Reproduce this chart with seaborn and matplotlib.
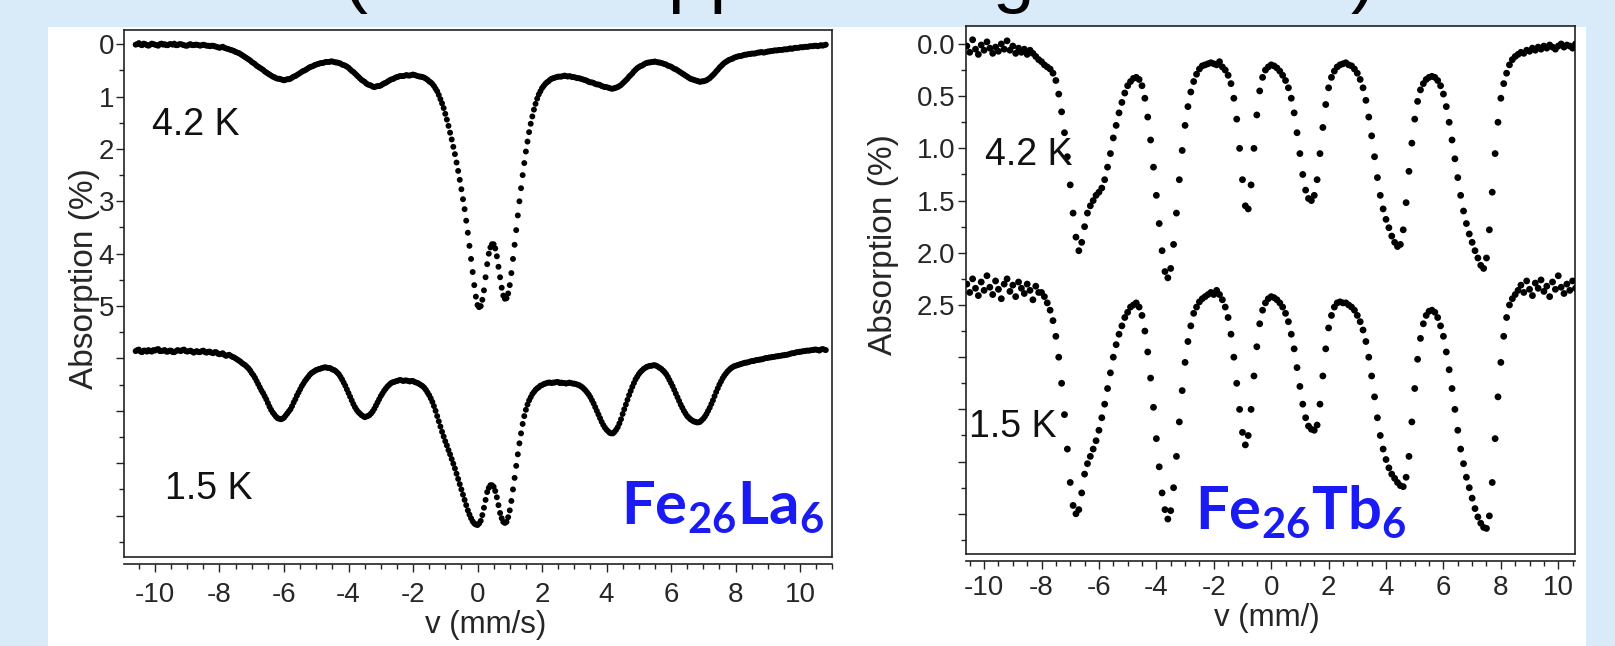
import numpy as np
import pandas as pd
import matplotlib
matplotlib.use("Agg")
import matplotlib.pyplot as plt
from matplotlib.patches import Rectangle
from matplotlib.ticker import FixedLocator, MultipleLocator, FuncFormatter
import seaborn as sns

# ---------------------------------------------------------------------------
# Mossbauer spectra: absorption (%) versus source velocity (mm/s)
# ---------------------------------------------------------------------------
# Fe26La6 channels: -10.6 ... 10.8 mm/s, 0.05 mm/s apart (429 channels)
la_velocity = np.arange(-212, 217) / 20.0
# Fe26Tb6 channels: -10.6 ... 10.8 mm/s, 0.1 mm/s apart (215 channels)
tb_velocity = np.arange(-106, 109) / 10.0

# Fe26La6, 4.2 K
la_4K2 = [
    0.01, 0.00, -0.02, 0.01, 0.02, -0.01, 0.00, 0.02, 0.03, 0.01, -0.01, 0.00, 0.01, 0.02, 0.03, 0.00, -0.01, 0.01, 0.00, 0.02,
    0.02, 0.00, 0.00, 0.01, -0.01, 0.02, 0.02, 0.00, 0.00, 0.01, 0.02, 0.03, 0.03, 0.01, 0.00, 0.02, 0.02, 0.01, 0.01, 0.02,
    0.03, 0.02, 0.01, 0.02, 0.03, 0.03, 0.04, 0.03, 0.03, 0.04, 0.05, 0.06, 0.07, 0.06, 0.05, 0.07, 0.08, 0.09, 0.10, 0.11,
    0.12, 0.13, 0.15, 0.16, 0.17, 0.19, 0.21, 0.23, 0.25, 0.27, 0.29, 0.31, 0.34, 0.36, 0.38, 0.41, 0.43, 0.45, 0.47, 0.49,
    0.52, 0.54, 0.56, 0.58, 0.60, 0.62, 0.63, 0.65, 0.66, 0.66, 0.67, 0.68, 0.69, 0.68, 0.67, 0.67, 0.66, 0.64, 0.62, 0.61,
    0.59, 0.57, 0.55, 0.53, 0.51, 0.50, 0.48, 0.46, 0.44, 0.43, 0.42, 0.40, 0.39, 0.38, 0.37, 0.36, 0.36, 0.35, 0.34, 0.34,
    0.34, 0.33, 0.33, 0.34, 0.35, 0.35, 0.36, 0.37, 0.39, 0.40, 0.41, 0.43, 0.45, 0.48, 0.51, 0.53, 0.56, 0.59, 0.62, 0.65,
    0.68, 0.70, 0.72, 0.75, 0.77, 0.78, 0.79, 0.81, 0.82, 0.81, 0.80, 0.80, 0.79, 0.77, 0.75, 0.74, 0.72, 0.70, 0.68, 0.67,
    0.66, 0.64, 0.63, 0.62, 0.61, 0.61, 0.61, 0.60, 0.59, 0.60, 0.60, 0.59, 0.58, 0.59, 0.60, 0.61, 0.62, 0.62, 0.63, 0.64,
    0.66, 0.68, 0.71, 0.73, 0.76, 0.80, 0.85, 0.90, 0.97, 1.05, 1.13, 1.22, 1.33, 1.44, 1.56, 1.69, 1.82, 1.96, 2.10, 2.26,
    2.42, 2.59, 2.77, 2.96, 3.15, 3.37, 3.60, 3.85, 4.10, 4.35, 4.60, 4.82, 4.98, 5.02, 5.00, 4.88, 4.70, 4.45, 4.20, 4.00,
    3.88, 3.82, 3.82, 3.90, 4.05, 4.25, 4.45, 4.65, 4.80, 4.86, 4.85, 4.76, 4.60, 4.37, 4.10, 3.83, 3.55, 3.27, 3.00, 2.75,
    2.50, 2.27, 2.05, 1.86, 1.68, 1.52, 1.38, 1.25, 1.14, 1.04, 0.96, 0.90, 0.84, 0.80, 0.76, 0.73, 0.71, 0.68, 0.66, 0.65,
    0.64, 0.63, 0.62, 0.62, 0.62, 0.61, 0.60, 0.61, 0.62, 0.61, 0.62, 0.63, 0.63, 0.64, 0.65, 0.65, 0.66, 0.67, 0.68, 0.69,
    0.70, 0.72, 0.73, 0.73, 0.74, 0.76, 0.77, 0.77, 0.78, 0.80, 0.81, 0.82, 0.82, 0.83, 0.84, 0.85, 0.85, 0.84, 0.83, 0.82,
    0.80, 0.78, 0.75, 0.72, 0.69, 0.66, 0.62, 0.59, 0.56, 0.52, 0.49, 0.46, 0.44, 0.42, 0.41, 0.39, 0.37, 0.36, 0.35, 0.35,
    0.34, 0.34, 0.33, 0.34, 0.35, 0.35, 0.36, 0.37, 0.38, 0.39, 0.41, 0.42, 0.43, 0.45, 0.47, 0.48, 0.50, 0.52, 0.54, 0.56,
    0.58, 0.60, 0.62, 0.64, 0.66, 0.67, 0.68, 0.69, 0.70, 0.71, 0.72, 0.71, 0.71, 0.70, 0.69, 0.67, 0.65, 0.62, 0.59, 0.56,
    0.52, 0.49, 0.45, 0.42, 0.39, 0.36, 0.34, 0.32, 0.30, 0.29, 0.28, 0.26, 0.25, 0.24, 0.23, 0.23, 0.22, 0.21, 0.20, 0.20,
    0.19, 0.19, 0.18, 0.18, 0.18, 0.17, 0.16, 0.16, 0.15, 0.16, 0.16, 0.15, 0.14, 0.14, 0.13, 0.13, 0.12, 0.12, 0.12, 0.11,
    0.11, 0.11, 0.10, 0.10, 0.10, 0.09, 0.08, 0.09, 0.08, 0.07, 0.07, 0.07, 0.06, 0.06, 0.06, 0.05, 0.05, 0.05, 0.04, 0.04,
    0.04, 0.03, 0.03, 0.04, 0.03, 0.02, 0.03, 0.02, 0.01,
]

# Fe26La6, 1.5 K
la_1K5 = [
    5.86, 5.84, 5.83, 5.87, 5.88, 5.85, 5.85, 5.87, 5.84, 5.86, 5.87, 5.84, 5.85, 5.83, 5.82, 5.86, 5.86, 5.85, 5.84, 5.87,
    5.87, 5.85, 5.85, 5.88, 5.88, 5.86, 5.84, 5.85, 5.86, 5.84, 5.83, 5.86, 5.87, 5.86, 5.85, 5.87, 5.89, 5.87, 5.86, 5.88,
    5.88, 5.86, 5.85, 5.88, 5.89, 5.87, 5.87, 5.89, 5.90, 5.88, 5.88, 5.91, 5.92, 5.91, 5.90, 5.93, 5.95, 5.94, 5.93, 5.95,
    5.97, 5.98, 6.00, 6.02, 6.04, 6.06, 6.09, 6.11, 6.13, 6.16, 6.19, 6.23, 6.28, 6.32, 6.37, 6.43, 6.49, 6.55, 6.61, 6.66,
    6.72, 6.78, 6.85, 6.92, 6.98, 7.03, 7.07, 7.11, 7.14, 7.15, 7.16, 7.15, 7.13, 7.09, 7.05, 7.01, 6.97, 6.91, 6.84, 6.78,
    6.71, 6.65, 6.59, 6.53, 6.48, 6.43, 6.39, 6.35, 6.31, 6.28, 6.26, 6.24, 6.22, 6.21, 6.20, 6.19, 6.18, 6.17, 6.17, 6.18,
    6.18, 6.19, 6.21, 6.22, 6.24, 6.27, 6.30, 6.35, 6.40, 6.46, 6.52, 6.59, 6.66, 6.73, 6.80, 6.87, 6.93, 6.98, 7.02, 7.05,
    7.08, 7.10, 7.12, 7.11, 7.10, 7.08, 7.05, 7.01, 6.96, 6.90, 6.84, 6.78, 6.72, 6.67, 6.62, 6.58, 6.54, 6.51, 6.48, 6.46,
    6.45, 6.44, 6.43, 6.42, 6.41, 6.42, 6.43, 6.42, 6.42, 6.43, 6.44, 6.43, 6.43, 6.45, 6.46, 6.47, 6.49, 6.51, 6.53, 6.56,
    6.60, 6.65, 6.70, 6.76, 6.83, 6.91, 7.00, 7.10, 7.20, 7.30, 7.40, 7.49, 7.58, 7.66, 7.75, 7.83, 7.92, 8.01, 8.10, 8.20,
    8.30, 8.40, 8.50, 8.60, 8.70, 8.80, 8.90, 8.98, 9.05, 9.11, 9.15, 9.17, 9.18, 9.15, 9.10, 8.99, 8.85, 8.70, 8.55, 8.47,
    8.42, 8.42, 8.45, 8.53, 8.65, 8.80, 8.95, 9.05, 9.12, 9.14, 9.12, 9.03, 8.90, 8.72, 8.50, 8.28, 8.05, 7.83, 7.62, 7.43,
    7.25, 7.10, 6.98, 6.88, 6.80, 6.74, 6.68, 6.64, 6.60, 6.57, 6.55, 6.52, 6.51, 6.49, 6.48, 6.47, 6.46, 6.46, 6.47, 6.46,
    6.46, 6.45, 6.45, 6.47, 6.46, 6.47, 6.47, 6.48, 6.47, 6.46, 6.47, 6.48, 6.48, 6.49, 6.50, 6.51, 6.53, 6.55, 6.58, 6.61,
    6.65, 6.69, 6.74, 6.80, 6.86, 6.93, 7.00, 7.07, 7.14, 7.21, 7.27, 7.32, 7.36, 7.39, 7.42, 7.43, 7.43, 7.40, 7.36, 7.31,
    7.24, 7.16, 7.06, 6.97, 6.88, 6.79, 6.70, 6.62, 6.54, 6.47, 6.40, 6.35, 6.30, 6.26, 6.23, 6.20, 6.18, 6.16, 6.15, 6.14,
    6.14, 6.13, 6.13, 6.14, 6.16, 6.18, 6.20, 6.23, 6.26, 6.30, 6.35, 6.41, 6.47, 6.53, 6.60, 6.67, 6.74, 6.81, 6.88, 6.94,
    7.00, 7.05, 7.10, 7.13, 7.16, 7.18, 7.20, 7.21, 7.22, 7.22, 7.21, 7.18, 7.15, 7.11, 7.06, 7.00, 6.94, 6.87, 6.80, 6.72,
    6.64, 6.57, 6.50, 6.44, 6.38, 6.33, 6.29, 6.25, 6.22, 6.19, 6.17, 6.15, 6.14, 6.13, 6.12, 6.11, 6.10, 6.09, 6.08, 6.08,
    6.07, 6.06, 6.05, 6.05, 6.04, 6.03, 6.03, 6.02, 6.02, 6.01, 6.00, 5.99, 5.99, 5.98, 5.98, 5.97, 5.97, 5.96, 5.96, 5.95,
    5.95, 5.94, 5.94, 5.93, 5.93, 5.92, 5.91, 5.90, 5.90, 5.89, 5.88, 5.88, 5.87, 5.87, 5.86, 5.86, 5.85, 5.85, 5.85, 5.84,
    5.84, 5.83, 5.83, 5.84, 5.85, 5.83, 5.82, 5.83, 5.84,
]

# Fe26Tb6, 4.2 K
tb_4K2 = [
    0.02, 0.08, -0.04, 0.05, 0.10, 0.01, 0.06, -0.02, 0.04, 0.09,
    0.03, 0.07, 0.00, 0.05, -0.03, 0.06, 0.02, 0.09, 0.04, 0.08,
    0.05, 0.10, 0.06, 0.09, 0.12, 0.15, 0.17, 0.20, 0.22, 0.24,
    0.28, 0.35, 0.48, 0.65, 0.85, 1.08, 1.35, 1.62, 1.85, 1.98,
    1.90, 1.75, 1.62, 1.55, 1.50, 1.45, 1.42, 1.38, 1.30, 1.18,
    1.05, 0.90, 0.78, 0.66, 0.56, 0.47, 0.40, 0.36, 0.33, 0.32,
    0.34, 0.40, 0.52, 0.70, 0.92, 1.18, 1.45, 1.72, 1.98, 2.18,
    2.24, 2.15, 1.92, 1.62, 1.30, 1.02, 0.78, 0.60, 0.46, 0.36,
    0.29, 0.24, 0.21, 0.20, 0.19, 0.18, 0.19, 0.20, 0.17, 0.22,
    0.25, 0.30, 0.38, 0.52, 0.72, 1.00, 1.30, 1.55, 1.58, 1.35,
    1.00, 0.68, 0.45, 0.32, 0.25, 0.22, 0.20, 0.21, 0.23, 0.26,
    0.30, 0.35, 0.42, 0.52, 0.66, 0.85, 1.05, 1.25, 1.40, 1.48,
    1.50, 1.45, 1.30, 1.05, 0.80, 0.58, 0.42, 0.32, 0.26, 0.22,
    0.20, 0.19, 0.18, 0.20, 0.21, 0.24, 0.28, 0.34, 0.42, 0.54,
    0.70, 0.88, 1.08, 1.28, 1.45, 1.58, 1.68, 1.76, 1.84, 1.90,
    1.94, 1.92, 1.78, 1.52, 1.22, 0.95, 0.72, 0.55, 0.44, 0.38,
    0.34, 0.32, 0.31, 0.32, 0.35, 0.40, 0.48, 0.60, 0.75, 0.92,
    1.10, 1.28, 1.45, 1.60, 1.72, 1.82, 1.90, 1.98, 2.05, 2.12,
    2.15, 2.05, 1.78, 1.42, 1.05, 0.75, 0.52, 0.38, 0.28, 0.20,
    0.15, 0.12, 0.10, 0.08, 0.09, 0.06, 0.07, 0.04, 0.06, 0.03,
    0.05, 0.02, 0.04, 0.01, 0.03, 0.05, 0.02, 0.00, 0.03, 0.01,
    0.02, 0.04, 0.00, 0.03, 0.01,
]

# Fe26Tb6, 1.5 K
tb_1K5 = [
    2.30, 2.38, 2.25, 2.34, 2.41, 2.28, 2.36, 2.22, 2.33, 2.40,
    2.27, 2.35, 2.44, 2.30, 2.25, 2.37, 2.31, 2.42, 2.28, 2.34,
    2.39, 2.30, 2.36, 2.45, 2.32, 2.38, 2.38, 2.42, 2.48, 2.55,
    2.65, 2.80, 3.00, 3.25, 3.55, 3.88, 4.20, 4.42, 4.50, 4.46,
    4.30, 4.12, 4.02, 3.95, 3.88, 3.80, 3.70, 3.58, 3.45, 3.30,
    3.15, 3.00, 2.88, 2.78, 2.70, 2.62, 2.57, 2.52, 2.50, 2.48,
    2.52, 2.60, 2.75, 2.95, 3.20, 3.48, 3.78, 4.05, 4.30, 4.46,
    4.55, 4.47, 4.25, 3.95, 3.62, 3.32, 3.05, 2.85, 2.70, 2.58,
    2.52, 2.47, 2.44, 2.42, 2.40, 2.38, 2.40, 2.36, 2.40, 2.45,
    2.52, 2.62, 2.78, 3.00, 3.25, 3.50, 3.72, 3.84, 3.75, 3.50,
    3.18, 2.90, 2.68, 2.55, 2.48, 2.44, 2.42, 2.43, 2.45, 2.48,
    2.52, 2.58, 2.66, 2.78, 2.92, 3.10, 3.28, 3.45, 3.58, 3.66,
    3.69, 3.70, 3.65, 3.45, 3.18, 2.92, 2.72, 2.60, 2.52, 2.48,
    2.47, 2.48, 2.48, 2.50, 2.52, 2.55, 2.60, 2.66, 2.74, 2.85,
    3.00, 3.18, 3.38, 3.58, 3.75, 3.88, 3.98, 4.06, 4.12, 4.16,
    4.20, 4.23, 4.24, 4.15, 3.95, 3.62, 3.30, 3.02, 2.82, 2.68,
    2.60, 2.56, 2.55, 2.57, 2.62, 2.70, 2.80, 2.95, 3.12, 3.30,
    3.50, 3.70, 3.88, 4.02, 4.15, 4.25, 4.35, 4.45, 4.53, 4.59,
    4.63, 4.64, 4.52, 4.20, 3.78, 3.38, 3.05, 2.80, 2.62, 2.50,
    2.44, 2.40, 2.36, 2.31, 2.38, 2.27, 2.35, 2.41, 2.29, 2.34,
    2.26, 2.37, 2.32, 2.42, 2.28, 2.35, 2.22, 2.33, 2.39, 2.30,
    2.36, 2.27, 2.34, 2.40, 2.31,
]

temperatures = ["4.2 K", "1.5 K"]
x_ticks = [-10, -8, -6, -4, -2, 0, 2, 4, 6, 8, 10]
la_y_labels = ["0", "1", "2", "3", "4", "5"]
tb_y_labels = ["0.0", "0.5", "1.0", "1.5", "2.0", "2.5"]

# ---------------------------------------------------------------------------
W, H = 1615, 646
sns.set_theme(style="ticks")
plt.rcParams["font.family"] = ["Liberation Sans", "DejaVu Sans"]
plt.rcParams["axes.unicode_minus"] = False
plt.rcParams["mathtext.fontset"] = "custom"
plt.rcParams["mathtext.rm"] = "Lato"
plt.rcParams["mathtext.bf"] = "Lato:bold"
plt.rcParams["mathtext.it"] = "Lato:italic"

# half a pixel of slack so the canvas rounds to the full 1615 px width
fig = plt.figure(figsize=((W + 0.5) / 100, H / 100), dpi=100)
fig.patch.set_facecolor("#D9EAF9")
fig.add_artist(Rectangle((48 / W, 0), (1586 - 48) / W, 1 - 27 / H,
                         transform=fig.transFigure, facecolor="white",
                         edgecolor="none", zorder=0))


def px_rect(x0, y0, x1, y1):
    return [x0 / W, 1 - y1 / H, (x1 - x0) / W, (y1 - y0) / H]


def panel(rect, v, spectra, xlim, ylim, step, labels, minor, size):
    ax = fig.add_axes(rect)
    ax.set_facecolor("white")
    df = pd.concat([
        pd.DataFrame({"v": v, "absorption": vals, "T": t})
        for t, vals in zip(temperatures, spectra)
    ])
    sns.scatterplot(data=df, x="v", y="absorption", hue="T",
                    palette=["black", "black"], s=size, linewidth=0,
                    legend=False, ax=ax, zorder=3)
    ax.set_xlim(*xlim)
    ax.set_ylim(*ylim)

    major = np.arange(0, ylim[0] + 1e-9, step)
    ax.yaxis.set_major_locator(FixedLocator(major))
    ax.yaxis.set_major_formatter(
        FuncFormatter(lambda val, i: labels[i] if i is not None and i < len(labels) else ""))
    ax.yaxis.set_minor_locator(MultipleLocator(minor))
    ax.xaxis.set_major_locator(FixedLocator(x_ticks))
    ax.xaxis.set_minor_locator(MultipleLocator(0.5))

    for sp in ax.spines.values():
        sp.set_color("#222222")
        sp.set_linewidth(1.2)
    ax.spines["bottom"].set_position(("outward", 5))
    ax.plot([0, 1], [0, 0], transform=ax.transAxes, color="#222222",
            lw=1.2, clip_on=False, zorder=4)

    ax.tick_params(axis="both", which="both", direction="out",
                   color="#222222", width=1.0, labelsize=20,
                   top=False, right=False)
    ax.tick_params(which="major", length=6)
    ax.tick_params(which="minor", length=3.5)
    return ax


# Fe26La6 panel
ax1 = panel(px_rect(124, 30, 832, 557), la_velocity, [la_4K2, la_1K5],
            (-10.96, 11.0), (9.79, -0.27), 1.0, la_y_labels, 0.5, 18)
ax1.tick_params(axis="y", pad=1)
ax1.tick_params(axis="x", pad=7)
ax1.set_xlabel("v (mm/s)", fontsize=22.5, va="center")
ax1.set_ylabel("Absorption (%)", fontsize=24, va="center")
ax1.xaxis.set_label_coords(0.51, -0.129)
ax1.yaxis.set_label_coords(-0.0565, 0.529)

# Fe26Tb6 panel
ax2 = panel(px_rect(966, 26, 1575, 554), tb_velocity, [tb_4K2, tb_1K5],
            (-10.62, 10.6), (4.885, -0.172), 0.5, tb_y_labels, 0.25, 24)
ax2.tick_params(axis="y", pad=2)
ax2.tick_params(axis="x", pad=4)
ax2.set_xlabel("v (mm/)", fontsize=22.5, va="center")
ax2.set_ylabel("Absorption (%)", fontsize=24, va="center")
ax2.xaxis.set_label_coords(0.494, -0.121)
ax2.yaxis.set_label_coords(-0.136, 0.587)

# temperature labels
txt_kw = dict(fontsize=27, ha="left", va="center", color="#111111")
fig.text(152 / W, 1 - 125 / H, temperatures[0], **txt_kw)
fig.text(165 / W, 1 - 489 / H, temperatures[1], **txt_kw)
fig.text(985 / W, 1 - 155 / H, temperatures[0], **txt_kw)
fig.text(969 / W, 1 - 427 / H, temperatures[1], **txt_kw)

# compound names
name_kw = dict(fontsize=43, ha="center", va="baseline", color="#1A1AF5")
fig.text(722 / W, 1 - 525 / H, r"$\mathbf{Fe_{26}La_{6}}$", **name_kw)
fig.text(1300 / W, 1 - 530 / H, r"$\mathbf{Fe_{26}Tb_{6}}$", **name_kw)

# heading line running off the top edge: its baseline sits on the edge,
# so only the descenders stay inside the picture
fig.canvas.draw()
renderer = fig.canvas.get_renderer()
head = fig.text(343 / W, 1 + 0.5 / H, "(without applied magnetic field)",
                fontsize=48, ha="left", va="baseline", color="black",
                family="Liberation Sans")
w = head.get_window_extent(renderer).width
head.set_fontsize(48 * (1378 - 343) / w)

fig.savefig("out.png", dpi=100, facecolor=fig.get_facecolor())
